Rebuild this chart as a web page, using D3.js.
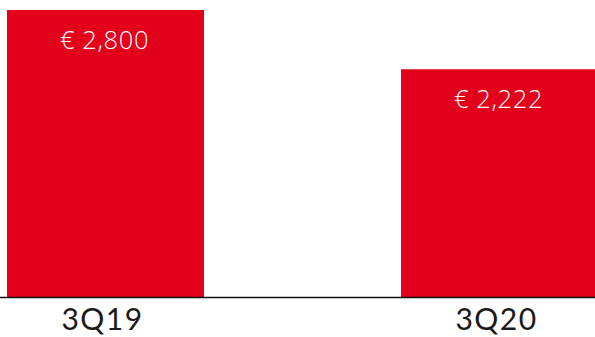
<!DOCTYPE html>
<html>
<head>
<meta charset="utf-8">
<script src="https://cdn.jsdelivr.net/npm/d3@7"></script>
<style>
  body { margin: 0; background: #fff; }
  svg { display: block; }
</style>
</head>
<body>
<script>
const quarters = ["3Q19", "3Q20"];
const values = [2800, 2222];
const valueLabels = ["€ 2,800", "€ 2,222"];

const width = 595,
  height = 337,
  baseY = 297,
  topY = 10;

const svg = d3.select("body").append("svg")
  .attr("width", width)
  .attr("height", height);

const x = d3.scaleBand()
  .domain(quarters)
  .range([7, 598])
  .paddingInner(0.5)
  .paddingOuter(0);

const y = d3.scaleLinear()
  .domain([0, d3.max(values)])
  .range([baseY, topY]);

// bars
svg.selectAll(".bar")
  .data(quarters)
  .enter().append("rect")
  .attr("class", "bar")
  .attr("x", d => x(d))
  .attr("y", (d, i) => y(values[i]))
  .attr("width", x.bandwidth())
  .attr("height", (d, i) => baseY - y(values[i]))
  .attr("fill", "#e3001a");

// value labels inside bars
svg.selectAll(".val")
  .data(quarters)
  .enter().append("text")
  .attr("class", "val")
  .attr("x", d => x(d) + x.bandwidth() / 2 - 1)
  .attr("y", (d, i) => y(values[i]) + 39)
  .attr("text-anchor", "middle")
  .attr("fill", "#fff")
  .style("font-family", "'Open Sans', sans-serif")
  .style("font-weight", 300)
  .style("font-size", "25.5px")
  .style("letter-spacing", "0.6px")
  .text((d, i) => valueLabels[i]);

// baseline
svg.append("line")
  .attr("x1", 0)
  .attr("x2", width)
  .attr("y1", baseY + 0.5)
  .attr("y2", baseY + 0.5)
  .attr("stroke", "#111")
  .attr("stroke-width", 1.5);

// category labels
svg.selectAll(".cat")
  .data(quarters)
  .enter().append("text")
  .attr("class", "cat")
  .attr("x", d => x(d) + x.bandwidth() / 2 - 3)
  .attr("y", 330)
  .attr("text-anchor", "middle")
  .attr("fill", "#1a1a1a")
  .style("font-family", "Lato, sans-serif")
  .style("font-size", "30px")
  .style("letter-spacing", "1.5px")
  .text(d => d);
</script>
</body>
</html>
